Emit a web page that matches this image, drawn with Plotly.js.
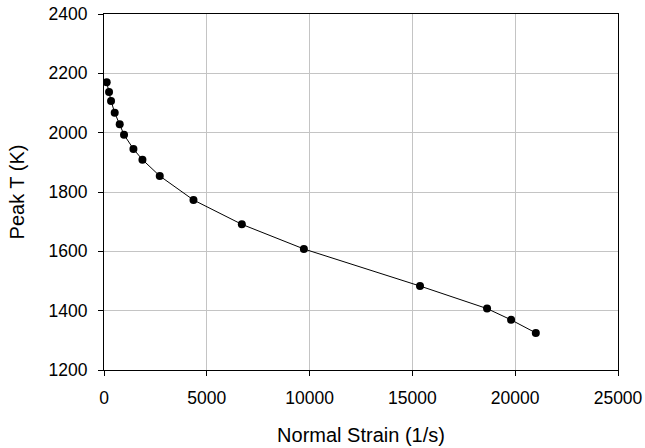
<!DOCTYPE html>
<html><head><meta charset="utf-8">
<script src="https://cdn.plot.ly/plotly-3.0.1.min.js"></script>
<style>html,body{margin:0;padding:0;background:#fff}#chart{width:645px;height:448px}</style>
</head><body><div id="chart"></div>
<script>
const strain = [131, 245, 343, 521, 764, 974, 1431, 1869, 2712, 4352, 6704, 9722, 15370, 18632, 19800, 21003];
const peakT = [2170, 2137, 2107, 2067, 2028, 1993, 1945, 1909, 1854, 1773, 1691, 1608, 1483, 1407, 1369, 1325];
const xTicks = [0, 5000, 10000, 15000, 20000, 25000];
const yTicks = [1200, 1400, 1600, 1800, 2000, 2200, 2400];

Plotly.newPlot('chart', [{
  x: strain, y: peakT, type: 'scatter', mode: 'lines+markers',
  line: {color: '#000', width: 1},
  marker: {color: '#000', size: 8}
}], {
  width: 645, height: 448,
  margin: {l: 104, r: 27, t: 14, b: 78},
  paper_bgcolor: '#fff', plot_bgcolor: '#fff',
  font: {family: 'Liberation Sans, Arial, sans-serif', size: 17.5, color: '#000'},
  showlegend: false,
  xaxis: {
    range: [0, 25000], tickvals: xTicks, ticktext: xTicks.map(String),
    showgrid: true, gridcolor: '#c4c4c4', gridwidth: 1,
    zeroline: false, showline: true, linecolor: '#000', linewidth: 1, mirror: true,
    ticks: 'outside', ticklen: 5, tickcolor: '#000', ticklabelstandoff: 7,
    title: {text: 'Normal Strain (1/s)', font: {size: 20}, standoff: 20}
  },
  yaxis: {
    range: [1200, 2400], tickvals: yTicks, ticktext: yTicks.map(String),
    showgrid: true, gridcolor: '#c4c4c4', gridwidth: 1,
    zeroline: false, showline: true, linecolor: '#000', linewidth: 1, mirror: true,
    ticks: 'outside', ticklen: 5, tickcolor: '#000', ticklabelstandoff: 7,
    title: {text: 'Peak T (K)', font: {size: 20}, standoff: 18}
  }
}, {displayModeBar: false, staticPlot: true});
</script></body></html>
